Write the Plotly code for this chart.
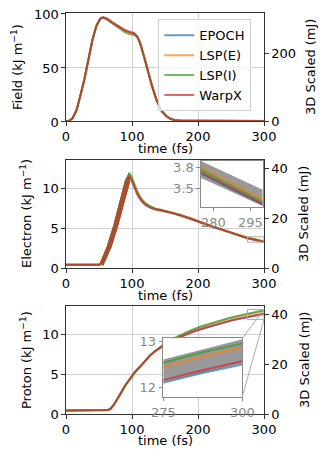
import plotly.graph_objects as go

codes = ["EPOCH", "LSP(E)", "LSP(I)", "WarpX"]
colors = ["#1f77b4", "#ff7f0e", "#2ca02c", "#d62728"]
SCALE_3D = 3.2  # 2D (kJ/m) -> 3D scaled (mJ)

# ---- field energy (kJ/m)
field_t = [0, 4, 10, 16, 22, 28, 34, 40, 46, 52, 56, 62, 70, 80, 90, 97, 103,
           108, 112, 118, 124, 130, 137, 145, 152, 158, 165, 175, 200, 250, 300]
field_epoch = [0, 0, 2.5, 10, 24, 39, 57, 75, 88, 95, 96.3, 95, 91.5, 87.5, 84, 82.5, 81.5,
               78.5, 73, 60.5, 46.5, 33, 19.5, 9, 4.4, 2, 0.7, 0.3, 0.2, 0.1, 0.1]
field_lspe = [0, 0, 2.5, 10, 24, 39, 57, 75, 88, 95, 96, 94.8, 91.2, 87.2, 83.8, 82.2, 81.2,
              78.2, 72.8, 60.2, 46.2, 33, 19.6, 9.2, 4.5, 2.1, 0.8, 0.3, 0.2, 0.1, 0.1]
field_lspi = [0, 0, 2.5, 10, 24, 39, 57, 75, 88, 94.6, 95.5, 94, 90.3, 85.8, 81.8, 80.2, 79.8,
              77.5, 72.5, 60.5, 46.8, 33.5, 20, 9.5, 4.8, 2.3, 0.9, 0.4, 0.2, 0.1, 0.1]
field_warpx = [0, 0, 2.5, 10, 24, 39, 57, 75, 88, 94.8, 95.8, 94.6, 91, 87, 83.6, 82, 81,
               78, 72.6, 60, 46, 32.8, 19.4, 9, 4.4, 2, 0.7, 0.3, 0.2, 0.1, 0.1]

# ---- electron energy (kJ/m)
elec_t = [0, 50, 55, 60, 65, 70, 75, 80, 85, 90, 93, 96, 99, 103, 108, 114, 120, 127,
          135, 145, 157, 172, 187, 203, 220, 237, 255, 275, 300]
elec_epoch = [0.4, 0.4, 0.6, 1.5, 2.6, 3.9, 5.2, 6.7, 8.2, 9.8, 10.8, 11.3, 11.0, 10.2, 9.2,
              8.4, 7.9, 7.55, 7.3, 7.15, 6.95, 6.6, 6.2, 5.7, 5.2, 4.75, 4.3, 3.72, 3.26]
elec_lspe = [0.4, 0.4, 0.6, 1.5, 2.6, 3.9, 5.2, 6.7, 8.3, 9.9, 10.9, 11.6, 11.2, 10.3, 9.3,
             8.5, 8.0, 7.65, 7.4, 7.25, 7.0, 6.65, 6.25, 5.75, 5.25, 4.8, 4.35, 3.81, 3.34]
elec_lspi = [0.4, 0.4, 0.6, 1.5, 2.6, 3.9, 5.2, 6.8, 8.4, 10.0, 11.1, 11.9, 11.5, 10.6, 9.6,
             8.7, 8.15, 7.75, 7.45, 7.25, 7.0, 6.65, 6.25, 5.75, 5.25, 4.8, 4.33, 3.77, 3.30]
elec_warpx = [0.4, 0.4, 0.6, 1.5, 2.6, 3.9, 5.2, 6.7, 8.3, 9.9, 10.9, 11.5, 11.1, 10.25, 9.25,
              8.45, 7.95, 7.6, 7.35, 7.2, 6.97, 6.62, 6.22, 5.72, 5.22, 4.77, 4.3, 3.73, 3.27]
# noisy rising edge of the electron curves (outline of the thick band)
elec_band_t = [50.5, 61.6, 71.7, 81.8, 89.4, 95.5, 97, 89.4, 79.3, 69.2, 56.6]
elec_band_v = [0.46, 2.65, 5.35, 8.47, 10.96, 11.9, 10.75, 8.47, 5.35, 2.65, 0.3]
# spread band shown in the inset
elec_spread_t = [275, 300]
elec_spread_lo = [3.65, 3.24]
elec_spread_hi = [3.90, 3.48]

# ---- proton energy (kJ/m)
prot_t = [0, 60, 64, 68, 72, 78, 84, 90, 97, 104, 112, 120, 127, 135, 143, 152, 163, 175,
          189, 203, 217, 230, 242, 253, 265, 275, 287, 300]
prot_epoch = [0.45, 0.45, 0.5, 0.7, 1.1, 1.9, 2.8, 3.6, 4.4, 5.2, 5.9, 6.65, 7.3, 7.85, 8.33,
              8.76, 9.25, 9.7, 10.15, 10.55, 10.9, 11.2, 11.45, 11.73, 11.93, 12.11, 12.31, 12.50]
prot_lspe = [0.45, 0.45, 0.5, 0.7, 1.1, 1.9, 2.8, 3.6, 4.4, 5.2, 5.9, 6.65, 7.3, 7.87, 8.4,
             8.9, 9.42, 9.9, 10.38, 10.82, 11.2, 11.52, 11.8, 12.05, 12.27, 12.45, 12.67, 12.88]
prot_lspi = [0.45, 0.45, 0.5, 0.7, 1.1, 1.9, 2.8, 3.6, 4.4, 5.2, 5.9, 6.65, 7.3, 7.88, 8.42,
             8.93, 9.46, 9.96, 10.45, 10.9, 11.28, 11.6, 11.88, 12.13, 12.35, 12.54, 12.76, 12.96]
prot_warpx = [0.45, 0.45, 0.5, 0.7, 1.1, 1.9, 2.8, 3.6, 4.4, 5.2, 5.9, 6.65, 7.3, 7.85, 8.35,
              8.8, 9.3, 9.75, 10.2, 10.6, 10.95, 11.25, 11.5, 11.78, 11.98, 12.16, 12.37, 12.57]
prot_spread_t = [275, 300]
prot_spread_lo = [12.12, 12.52]
prot_spread_hi = [12.61, 13.05]

# axis ranges
t_range = [0, 300]
field_range = [0, 100]
energy_range = [0, 13.5]
elec_zoom_x, elec_zoom_y = [275, 300], [3.23, 3.90]
prot_zoom_x, prot_zoom_y = [275, 300], [11.80, 13.07]

# ---- geometry, in page pixels (the page body adds an 8px margin)
OFF = 8
W, H = 330 - OFF, 460 - OFF
L, R, T, B = 66, 264, 13, 414           # plot area on the page
PW, PH = R - L, B - T


def px(x):
    return (x - L) / PW


def py(y):
    return (B - y) / PH


def xdom(x0, x1):
    return [px(x0), px(x1)]


def ydom(top, bot):
    return [py(bot), py(top)]


panels = [(13, 121), (160, 268), (306, 414)]
dom1, dom2, dom3 = [ydom(a, b) for a, b in panels]
inset2_x, inset2_y = xdom(201, 262.7), ydom(161, 206.7)
inset3_x, inset3_y = xdom(163.3, 242.3), ydom(338.3, 396.7)

FONT = dict(family="DejaVu Sans", size=13, color="black")
SPINE = "#333333"
GRID = "#d0d0d0"
INSET_C = "#8a8a8a"

fig = go.Figure()


def add_lines(t, series, xa, ya, legend=False):
    for name, col, vals in zip(codes, colors, series):
        fig.add_trace(go.Scatter(
            x=t, y=vals, mode="lines", name=name, xaxis=xa, yaxis=ya,
            line=dict(color=col, width=2), opacity=0.7,
            showlegend=legend, hoverinfo="skip"))


def add_inset(xr, yr, t, lo, hi, tt, series, xa, ya):
    # semi transparent white background of the inset
    fig.add_trace(go.Scatter(
        x=[xr[0], xr[1], xr[1], xr[0], xr[0]], y=[yr[0], yr[0], yr[1], yr[1], yr[0]],
        xaxis=xa, yaxis=ya, mode="lines", fill="toself", line=dict(width=0),
        fillcolor="rgba(255,255,255,0.75)", showlegend=False, hoverinfo="skip"))
    fig.add_trace(go.Scatter(
        x=t + t[::-1], y=hi + lo[::-1], xaxis=xa, yaxis=ya, mode="lines",
        fill="toself", line=dict(width=0), fillcolor="rgba(128,128,128,0.8)",
        showlegend=False, hoverinfo="skip"))
    add_lines(tt, series, xa, ya)


# field panel
add_lines(field_t, [field_epoch, field_lspe, field_lspi, field_warpx], "x", "y", legend=True)

# electron panel (thick noisy rise drawn as a band in every colour)
for col in colors:
    fig.add_trace(go.Scatter(
        x=elec_band_t + elec_band_t[:1], y=elec_band_v + elec_band_v[:1],
        xaxis="x2", yaxis="y3", mode="lines", fill="toself", fillcolor=col,
        line=dict(width=0), opacity=0.7, showlegend=False, hoverinfo="skip"))
add_lines(elec_t, [elec_epoch, elec_lspe, elec_lspi, elec_warpx], "x2", "y3")

# proton panel
add_lines(prot_t, [prot_epoch, prot_lspe, prot_lspi, prot_warpx], "x3", "y5")

# insets
add_inset(elec_zoom_x, elec_zoom_y, elec_spread_t, elec_spread_lo, elec_spread_hi,
          elec_t, [elec_epoch, elec_lspe, elec_lspi, elec_warpx], "x4", "y7")
add_inset(prot_zoom_x, prot_zoom_y, prot_spread_t, prot_spread_lo, prot_spread_hi,
          prot_t, [prot_epoch, prot_lspe, prot_lspi, prot_warpx], "x5", "y8")

# dummy traces so the right-hand axes are drawn
for xa, ya in [("x", "y2"), ("x2", "y4"), ("x3", "y6")]:
    fig.add_trace(go.Scatter(x=[None], y=[None], xaxis=xa, yaxis=ya,
                             showlegend=False, hoverinfo="skip"))

main_x = dict(range=t_range, tickvals=[0, 100, 200, 300], showgrid=True, gridcolor=GRID,
              gridwidth=1, zeroline=False, showline=True, linecolor=SPINE, linewidth=1.3,
              mirror=True, ticks="outside", ticklen=3.5, tickcolor=SPINE, automargin=False,
              tickfont=FONT, ticklabeloverflow="allow")
main_y = dict(showgrid=True, gridcolor=GRID, gridwidth=1, zeroline=False, showline=True,
              linecolor=SPINE, linewidth=1.3, ticks="outside", ticklen=3.5, tickcolor=SPINE,
              tickfont=FONT, automargin=False, ticklabeloverflow="allow")
right_y = dict(side="right", showgrid=False, zeroline=False, showline=True, linecolor=SPINE,
               linewidth=1.3, ticks="outside", ticklen=3.5, tickcolor=SPINE, tickfont=FONT,
               automargin=False, ticklabeloverflow="allow")
inset_ax = dict(showgrid=False, zeroline=False, showline=True, linecolor=INSET_C, linewidth=1.2,
                mirror=True, ticks="outside", ticklen=3.5, tickcolor=INSET_C, automargin=False,
                ticklabeloverflow="allow",
                tickfont=dict(family="DejaVu Sans", size=13, color=INSET_C))

scaled = [energy_range[0] * SCALE_3D, energy_range[1] * SCALE_3D]
fig.update_layout(
    width=W, height=H,
    margin=dict(l=L - OFF, r=W - (R - OFF), t=T - OFF, b=H - (B - OFF), autoexpand=False),
    paper_bgcolor="white", plot_bgcolor="white", font=FONT,
    xaxis=dict(main_x, domain=[0, 1], anchor="y"),
    xaxis2=dict(main_x, domain=[0, 1], anchor="y3"),
    xaxis3=dict(main_x, domain=[0, 1], anchor="y5"),
    yaxis=dict(main_y, domain=dom1, anchor="x", range=field_range, tickvals=[0, 50, 100],
               ticklabelshift=1),
    yaxis2=dict(right_y, overlaying="y", anchor="x",
                range=[field_range[0] * SCALE_3D, field_range[1] * SCALE_3D], tickvals=[0, 200]),
    yaxis3=dict(main_y, domain=dom2, anchor="x2", range=energy_range, tickvals=[0, 5, 10]),
    yaxis4=dict(right_y, overlaying="y3", anchor="x2", range=scaled, tickvals=[0, 20, 40]),
    yaxis5=dict(main_y, domain=dom3, anchor="x3", range=energy_range, tickvals=[0, 5, 10]),
    yaxis6=dict(right_y, overlaying="y5", anchor="x3", range=scaled, tickvals=[0, 20, 40]),
    xaxis4=dict(inset_ax, domain=inset2_x, anchor="y7", range=elec_zoom_x, tickvals=[280, 295]),
    yaxis7=dict(inset_ax, domain=inset2_y, anchor="x4", range=elec_zoom_y, tickvals=[3.5, 3.8]),
    xaxis5=dict(inset_ax, domain=inset3_x, anchor="y8", range=prot_zoom_x, tickvals=[275, 300]),
    yaxis8=dict(inset_ax, domain=inset3_y, anchor="x5", range=prot_zoom_y, tickvals=[12, 13]),
    legend=dict(x=px(158.3), y=py(19.3), xanchor="left", yanchor="top",
                bgcolor="rgba(255,255,255,0.8)", bordercolor="#d0d0d0", borderwidth=1,
                font=FONT, tracegroupgap=0),
    showlegend=True,
)

# axis titles as annotations (page pixel positions)
ylabel = "(kJ m<sup>\u22121</sup>)"
left_titles = [("Field " + ylabel, 17), ("Electron " + ylabel, 26), ("Proton " + ylabel, 26)]
right_x = [310, 303, 304]
for (top, bot), (txt, lx), rx in zip(panels, left_titles, right_x):
    mid = (top + bot) / 2
    fig.add_annotation(text=txt, xref="paper", yref="paper", x=px(lx), y=py(mid),
                       textangle=-90, showarrow=False, font=FONT,
                       xanchor="center", yanchor="middle")
    fig.add_annotation(text="3D Scaled (mJ)", xref="paper", yref="paper", x=px(rx), y=py(mid),
                       textangle=-90, showarrow=False, font=FONT,
                       xanchor="center", yanchor="middle")
    fig.add_annotation(text="time (fs)", xref="paper", yref="paper", x=0.5, y=py(bot + 27),
                       showarrow=False, font=FONT, xanchor="center", yanchor="middle")


def to_paper(xv, yv, xr, yr, xd, yd):
    qx = xd[0] + (xv - xr[0]) / (xr[1] - xr[0]) * (xd[1] - xd[0])
    qy = yd[0] + (yv - yr[0]) / (yr[1] - yr[0]) * (yd[1] - yd[0])
    return qx, qy


# zoom rectangles in the main panels
for xr, yr, xa, ya in [(elec_zoom_x, elec_zoom_y, "x2", "y3"), (prot_zoom_x, prot_zoom_y, "x3", "y5")]:
    fig.add_shape(type="rect", xref=xa, yref=ya, x0=xr[0], x1=xr[1], y0=yr[0], y1=yr[1],
                  line=dict(color="#aaaaaa", width=1))

# connector lines for the proton inset
for yv in prot_zoom_y:
    x0, y0 = to_paper(prot_zoom_x[1], yv, t_range, energy_range, [0, 1], dom3)
    x1, y1 = to_paper(prot_zoom_x[1], yv, prot_zoom_x, prot_zoom_y, inset3_x, inset3_y)
    fig.add_shape(type="line", xref="paper", yref="paper", x0=x0, y0=y0, x1=x1, y1=y1,
                  line=dict(color="#aaaaaa", width=1))

fig.write_html("out.html")
